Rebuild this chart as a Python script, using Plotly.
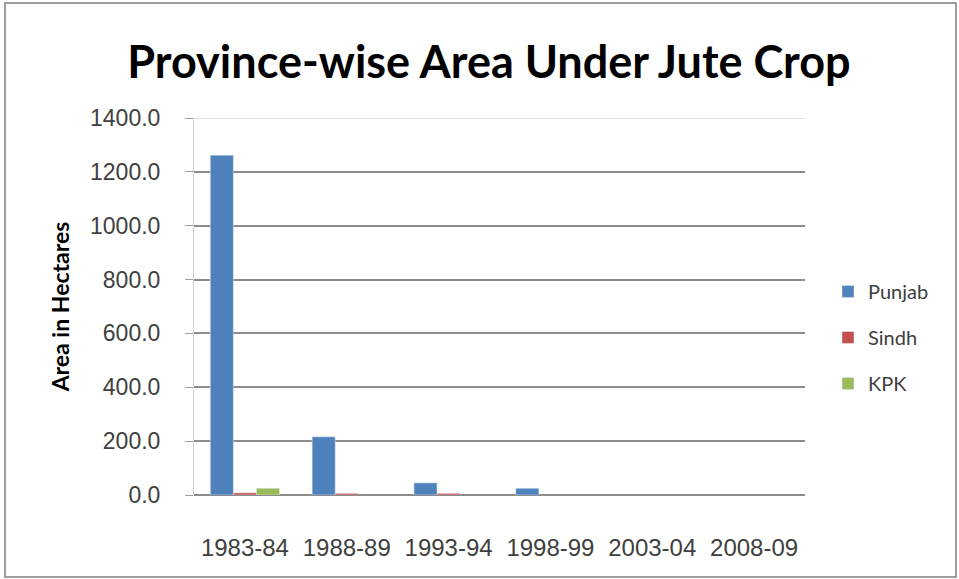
import plotly.graph_objects as go

# data (None = no bar drawn)
years = ["1983-84", "1988-89", "1993-94", "1998-99", "2003-04", "2008-09"]
punjab = [1262, 216, 45, 25, None, None]
sindh = [8, 6, 6, None, None, None]
kpk = [25, None, None, None, None, None]
y_ticks = [0, 200, 400, 600, 800, 1000, 1200, 1400]

W, H = 959, 579
L, R, T, B = 194, 154, 118, 84
pw, ph = W - L - R, H - T - B

font_main = "Lato, 'Open Sans', sans-serif"
font_tick = "'Liberation Sans', Arial, sans-serif"

fig = go.Figure()
fig.add_trace(go.Bar(x=years, y=punjab, name="Punjab", marker_color="#4F81BD", legendgroup="a"))
fig.add_trace(go.Bar(x=years, y=sindh, name="Sindh", marker_color="#C0504D", legendgroup="b"))
fig.add_trace(go.Bar(x=years, y=kpk, name="KPK", marker_color="#9BBB59", legendgroup="c"))

fig.update_layout(
    width=W, height=H,
    margin=dict(l=L, r=R, t=T, b=B, autoexpand=False),
    paper_bgcolor="white", plot_bgcolor="white",
    barmode="group", bargap=0.32, bargroupgap=0,
    title=dict(text="Province-wise Area Under Jute Crop", x=(489 - L) / pw, xref="paper",
               xanchor="center", y=1 - 62 / H, yanchor="middle",
               font=dict(family=font_main, size=45, color="black", weight="bold")),
    legend=dict(x=(828 - L) / pw, y=(495 - 272) / ph, xanchor="left", yanchor="top",
                font=dict(family=font_main, size=20, color="#404040"),
                tracegroupgap=17, bgcolor="rgba(0,0,0,0)"),
    showlegend=True,
)
fig.update_xaxes(
    type="category", automargin=False,
    showgrid=False, showline=False, zeroline=False,
    ticks="", ticklabelstandoff=36,
    tickfont=dict(family=font_tick, size=24, color="#404040"),
)
fig.update_yaxes(
    range=[0, 1400], tickvals=y_ticks, ticktext=[f"{v:.1f}" for v in y_ticks],
    automargin=False,
    showgrid=True, gridcolor="#8c8c8c", gridwidth=2,
    showline=True, linecolor="#d0d0d0", linewidth=1,
    zeroline=True, zerolinecolor="#8c8c8c", zerolinewidth=2,
    ticks="outside", ticklen=8, tickcolor="#a0a0a0",
    ticklabelstandoff=20,
    tickfont=dict(family=font_tick, size=23, color="#404040"),
    title=dict(text="Area in Hectares", standoff=13,
               font=dict(family=font_main, size=23, color="black", weight="bold")),
)

# light top gridline at the range edge
fig.add_shape(type="line", xref="paper", yref="y", x0=0, x1=1, y0=y_ticks[-1], y1=y_ticks[-1],
              line=dict(color="#d9d9d9", width=1.5), layer="below")

# outer chart frame
fig.add_shape(type="rect", xref="paper", yref="paper",
              x0=(5 - L) / pw, x1=(956 - L) / pw,
              y0=(H - B - 577) / ph, y1=(H - B - 3) / ph,
              line=dict(color="#7f7f7f", width=1.5), fillcolor="rgba(0,0,0,0)", layer="below")

fig.write_html("out.html", config={"displayModeBar": False},
               post_script="document.body.style.margin='0';")
